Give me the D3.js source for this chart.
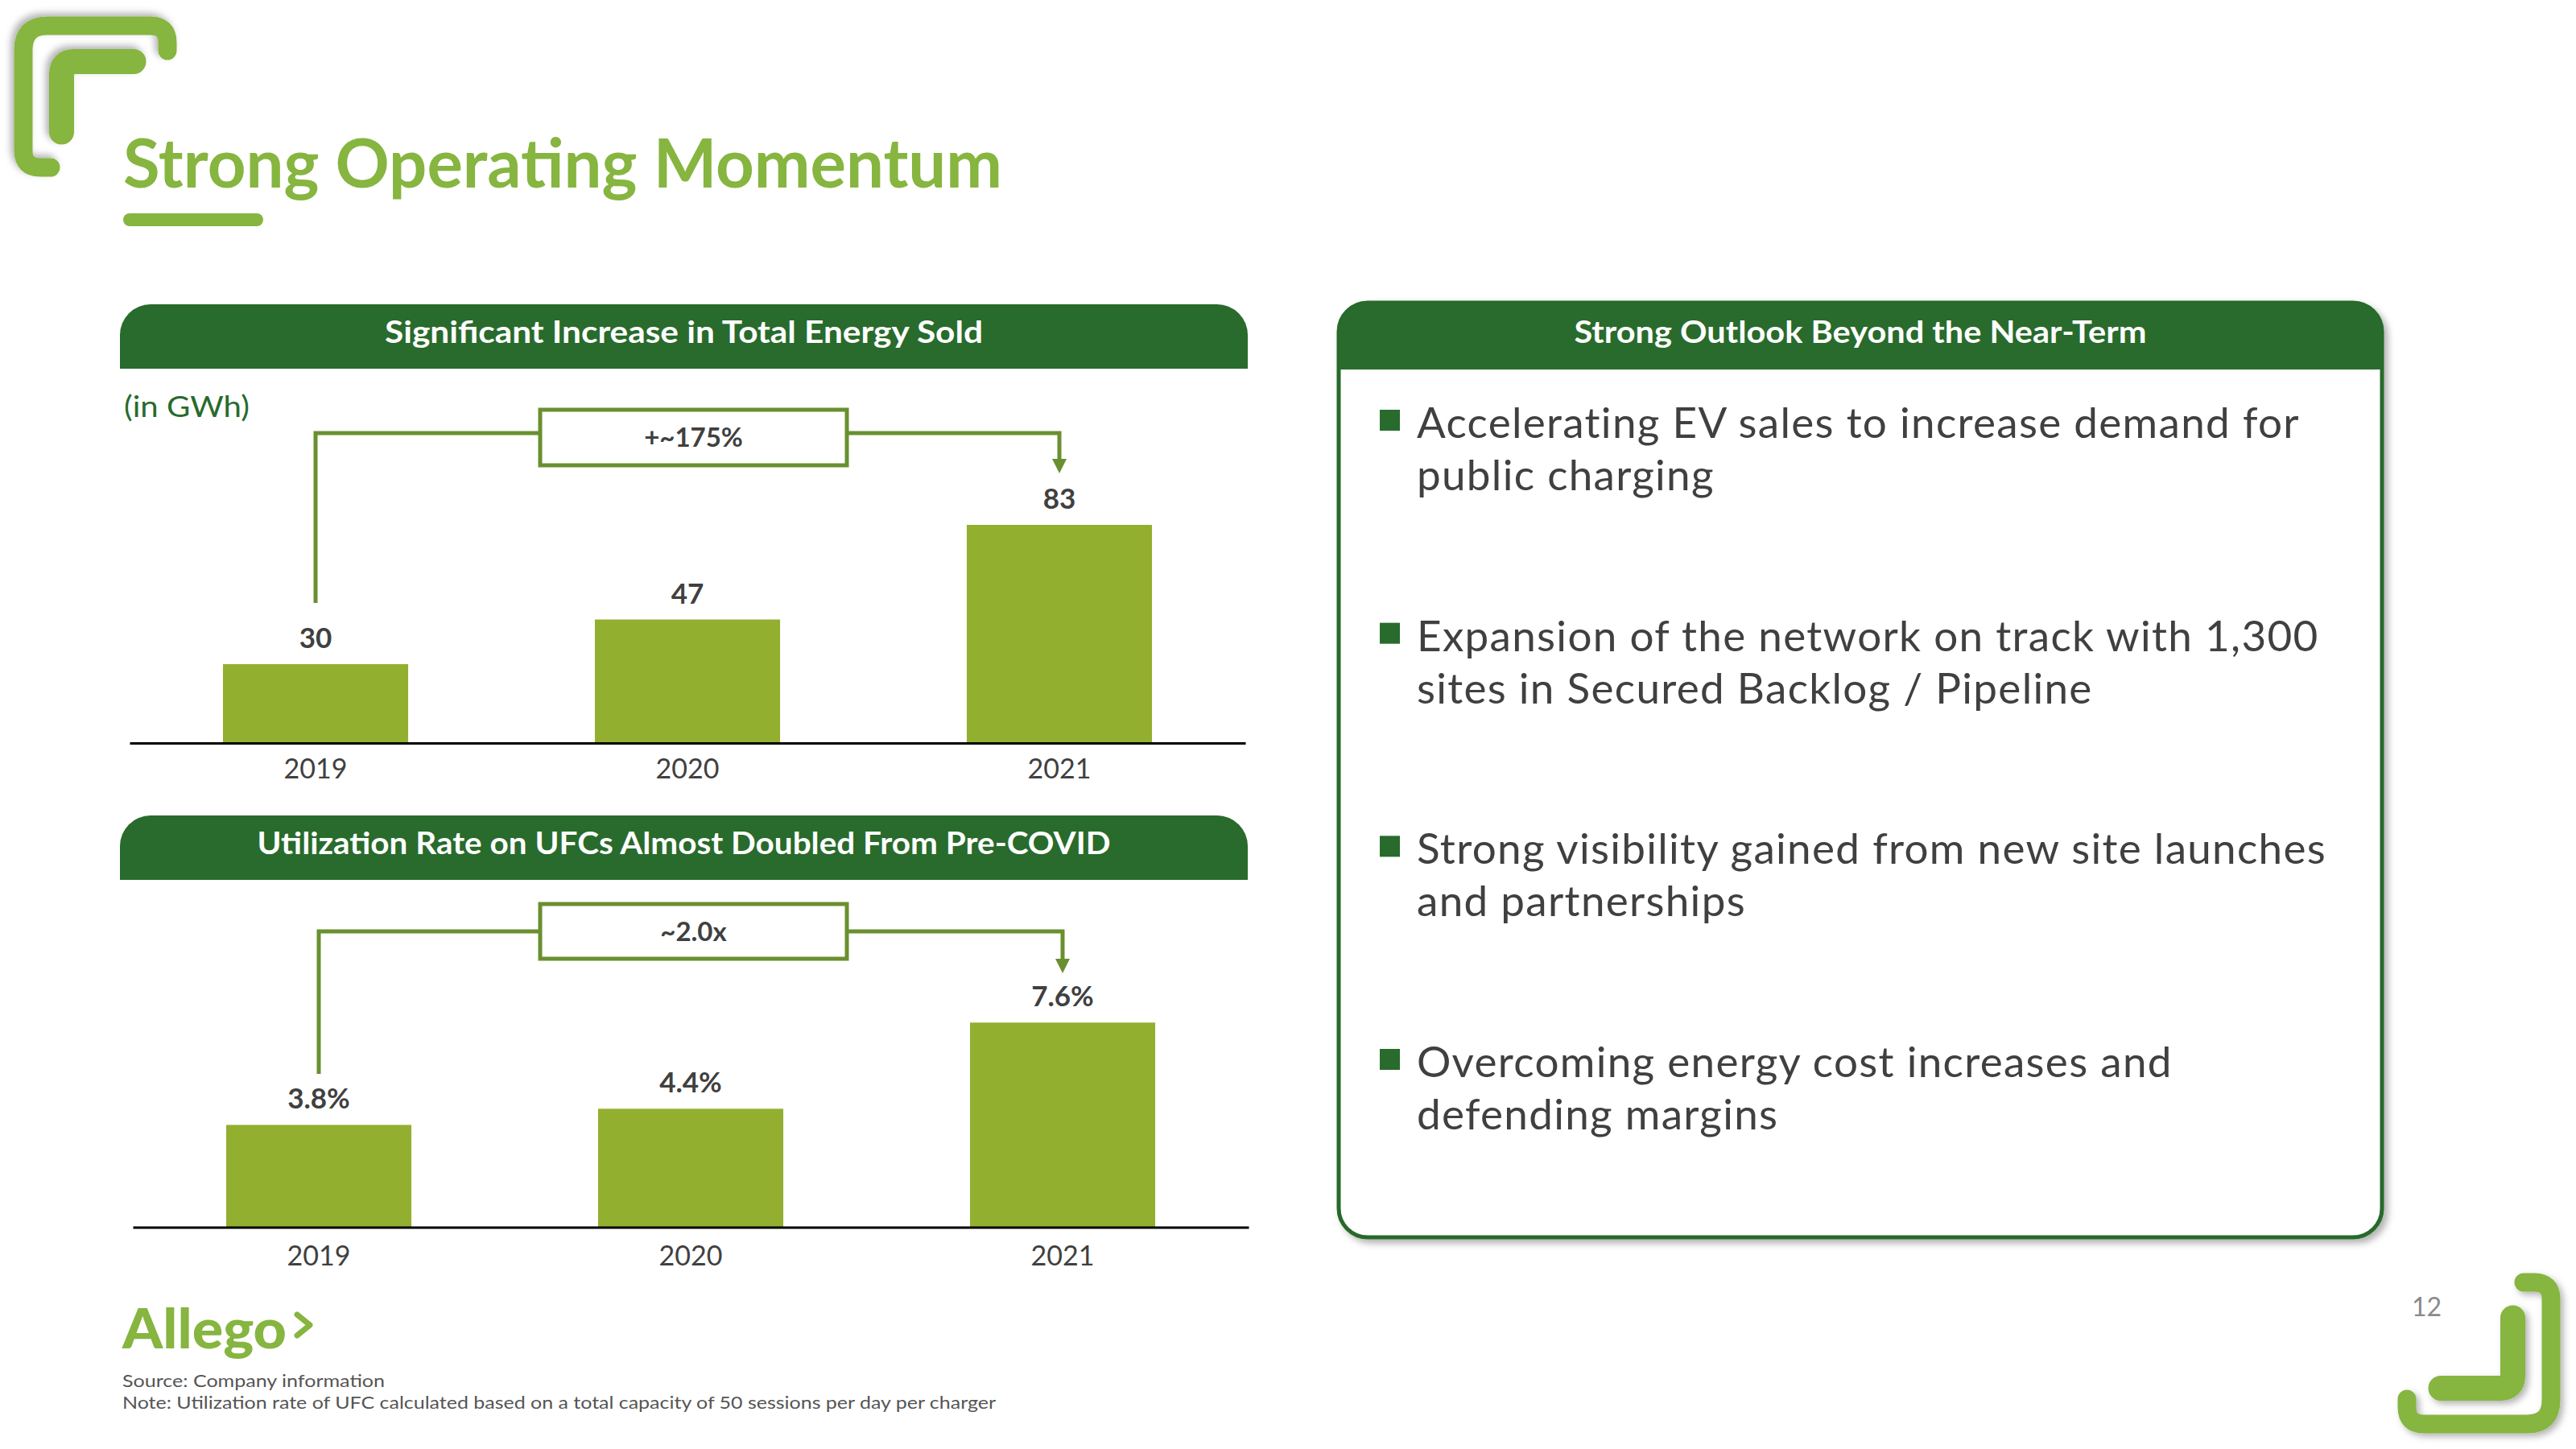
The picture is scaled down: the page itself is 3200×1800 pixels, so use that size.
<!DOCTYPE html>
<html>
<head>
<meta charset="utf-8">
<script src="https://cdn.jsdelivr.net/npm/d3@7"></script>
<style>
  html, body { margin: 0; padding: 0; background: #ffffff; }
  svg { display: block; }
</style>
</head>
<body>
<div id="chart"></div>
<script>
// ---------------- DATA ----------------
const years = ["2019", "2020", "2021"];
const energySold = [30, 47, 83];
const energyLabels = ["30", "47", "83"];
const utilization = [3.8, 4.4, 7.6];
const utilLabels = ["3.8%", "4.4%", "7.6%"];
const titleText = "Strong Operating Momentum";
const header1 = "Significant Increase in Total Energy Sold";
const header2 = "Utilization Rate on UFCs Almost Doubled From Pre-COVID";
const header3 = "Strong Outlook Beyond the Near-Term";
const unitLabel = "(in GWh)";
const growth1 = "+~175%";
const growth2 = "~2.0x";
const bullets = [
  ["Accelerating EV sales to increase demand for", "public charging"],
  ["Expansion of the network on track with 1,300", "sites in Secured Backlog / Pipeline"],
  ["Strong visibility gained from new site launches", "and partnerships"],
  ["Overcoming energy cost increases and", "defending margins"]
];
const footnotes = ["Source: Company information",
  "Note: Utilization rate of UFC calculated based on a total capacity of 50 sessions per day per charger"];
const pageNumber = "12";

// ---------------- STYLE ----------------
const W = 3200, H = 1800;
const FONT = "Lato, 'Open Sans', 'DejaVu Sans', sans-serif";
const C = {
  lime: "#86b540", bar: "#93af30", dark: "#286b2c", bracket: "#6a8f2f",
  text: "#404040", gray: "#8a8a8a"
};

const svg = d3.select("#chart").append("svg")
  .attr("width", W).attr("height", H).attr("viewBox", `0 0 ${W} ${H}`);

const defs = svg.append("defs");
const f1 = defs.append("filter").attr("id", "logoShadow")
  .attr("x", "-30%").attr("y", "-30%").attr("width", "160%").attr("height", "160%");
f1.append("feDropShadow").attr("dx", -4).attr("dy", -4).attr("stdDeviation", 4)
  .attr("flood-color", "#000").attr("flood-opacity", 0.3);
const f2 = defs.append("filter").attr("id", "panelShadow")
  .attr("x", "-5%").attr("y", "-5%").attr("width", "110%").attr("height", "110%");
f2.append("feDropShadow").attr("dx", 5).attr("dy", 5).attr("stdDeviation", 4)
  .attr("flood-color", "#000").attr("flood-opacity", 0.3);

// ---------------- LOGO BRACKETS ----------------
function drawBracket(transform) {
  const g = svg.append("g").attr("transform", transform).attr("filter", "url(#logoShadow)");
  g.append("path")
    .attr("d", "M 46,188 L 33,188 Q 12,188 12,167 L 12,42 Q 12,12 42,12 L 170,12 Q 191,12 191,33 L 191,43")
    .attr("fill", "none").attr("stroke", C.lime).attr("stroke-width", 23)
    .attr("stroke-linecap", "round").attr("stroke-linejoin", "round");
  g.append("path")
    .attr("d", "M 59.5,144 L 59.5,72 Q 59.5,56.5 75,56.5 L 149,56.5")
    .attr("fill", "none").attr("stroke", C.lime).attr("stroke-width", 31)
    .attr("stroke-linecap", "round").attr("stroke-linejoin", "round");
}
drawBracket("translate(17,20)");
drawBracket("translate(3181,1781) rotate(180)");

// ---------------- TITLE ----------------
svg.append("text").attr("x", 153).attr("y", 233)
  .attr("font-family", FONT).attr("font-weight", 700).attr("font-size", 84)
  .attr("fill", C.lime).attr("textLength", 1092).attr("lengthAdjust", "spacingAndGlyphs")
  .text(titleText);
svg.append("rect").attr("x", 153).attr("y", 265).attr("width", 174).attr("height", 16)
  .attr("rx", 8).attr("fill", C.lime);

// ---------------- HELPERS ----------------
function topRounded(x, y, w, h, r) {
  return `M ${x},${y + h} L ${x},${y + r} A ${r},${r} 0 0 1 ${x + r},${y} L ${x + w - r},${y} ` +
    `A ${r},${r} 0 0 1 ${x + w},${y + r} L ${x + w},${y + h} Z`;
}

function header(x, y, w, h, label, textW) {
  svg.append("path").attr("d", topRounded(x, y, w, h, 38)).attr("fill", C.dark);
  svg.append("text").attr("x", x + w / 2).attr("y", y + 48)
    .attr("text-anchor", "middle").attr("font-family", FONT).attr("font-weight", 700)
    .attr("font-size", 38).attr("fill", "#ffffff")
    .attr("textLength", textW).attr("lengthAdjust", "spacingAndGlyphs")
    .text(label);
}

// ---------------- BAR CHART ----------------
function barChart(cfg) {
  const x = d3.scaleBand().domain(years).range(cfg.xRange)
    .paddingInner(0.502).paddingOuter(0.251);
  const y = d3.scaleLinear().domain([0, cfg.maxV]).range([cfg.base, cfg.base - cfg.maxPx]);
  const data = years.map((yr, i) => ({ yr, v: cfg.values[i], label: cfg.labels[i] }));
  const g = svg.append("g");

  g.selectAll("rect.bar").data(data).enter().append("rect")
    .attr("class", "bar")
    .attr("x", d => x(d.yr)).attr("width", x.bandwidth())
    .attr("y", d => y(d.v)).attr("height", d => y(0) - y(d.v))
    .attr("fill", C.bar);

  g.selectAll("text.val").data(data).enter().append("text")
    .attr("class", "val")
    .attr("x", d => x(d.yr) + x.bandwidth() / 2).attr("y", d => y(d.v) - 20)
    .attr("text-anchor", "middle").attr("font-family", FONT).attr("font-weight", 700)
    .attr("font-size", 35).attr("fill", C.text).text(d => d.label);

  const axis = g.append("g").attr("transform", `translate(0,${cfg.base})`)
    .call(d3.axisBottom(x).tickSize(0).tickPadding(cfg.tickPad).tickSizeOuter(0));
  axis.select(".domain").attr("stroke", "#000").attr("stroke-width", 3);
  axis.selectAll("text").attr("font-family", FONT).attr("font-size", 34)
    .attr("fill", C.text);

  // growth bracket
  const xa = x(years[0]) + x.bandwidth() / 2;
  const xb = x(years[2]) + x.bandwidth() / 2;
  const bx0 = cfg.box[0], bx1 = cfg.box[1];
  g.append("path")
    .attr("d", `M ${xa},${cfg.bracketBottom} L ${xa},${cfg.bracketY} L ${bx0},${cfg.bracketY}`)
    .attr("fill", "none").attr("stroke", C.bracket).attr("stroke-width", 5);
  g.append("path")
    .attr("d", `M ${bx1},${cfg.bracketY} L ${xb},${cfg.bracketY} L ${xb},${cfg.arrowTip - 16}`)
    .attr("fill", "none").attr("stroke", C.bracket).attr("stroke-width", 5);
  g.append("path")
    .attr("d", `M ${xb - 9},${cfg.arrowTip - 18} L ${xb + 9},${cfg.arrowTip - 18} L ${xb},${cfg.arrowTip} Z`)
    .attr("fill", C.bracket);
  g.append("rect").attr("x", bx0).attr("y", cfg.boxY[0])
    .attr("width", bx1 - bx0).attr("height", cfg.boxY[1] - cfg.boxY[0])
    .attr("fill", "#fff").attr("stroke", C.bracket).attr("stroke-width", 5);
  g.append("text").attr("x", (bx0 + bx1) / 2).attr("y", cfg.growthBaseline)
    .attr("text-anchor", "middle").attr("font-family", FONT).attr("font-weight", 700)
    .attr("font-size", 33).attr("fill", C.text).text(cfg.growth);
}

header(149, 378, 1401, 80, header1, 743);
svg.append("text").attr("x", 154).attr("y", 518)
  .attr("font-family", FONT).attr("font-size", 36).attr("fill", C.dark)
  .attr("textLength", 156).attr("lengthAdjust", "spacingAndGlyphs").text(unitLabel);

barChart({
  values: energySold, labels: energyLabels, xRange: [161, 1547],
  maxV: 100, maxPx: 326.5, base: 923, tickPad: 20,
  bracketY: 538, bracketBottom: 749, box: [671, 1052], boxY: [509, 578],
  arrowTip: 588, growth: growth1, growthBaseline: 555
});

header(149, 1013, 1401, 80, header2, 1060);
barChart({
  values: utilization, labels: utilLabels, xRange: [165, 1551],
  maxV: 10, maxPx: 334.5, base: 1524.5, tickPad: 23,
  bracketY: 1157, bracketBottom: 1334, box: [671, 1052], boxY: [1123, 1191],
  arrowTip: 1209, growth: growth2, growthBaseline: 1169
});

// ---------------- RIGHT PANEL ----------------
const px = 1663, py = 376, pw = 1296, ph = 1161;
svg.append("rect").attr("x", px).attr("y", py).attr("width", pw).attr("height", ph)
  .attr("rx", 36).attr("fill", "#fff").attr("stroke", C.dark).attr("stroke-width", 5)
  .attr("filter", "url(#panelShadow)");
svg.append("path").attr("d", topRounded(px, py, pw, 83, 36)).attr("fill", C.dark);
svg.append("text").attr("x", px + pw / 2).attr("y", py + 50)
  .attr("text-anchor", "middle").attr("font-family", FONT).attr("font-weight", 700)
  .attr("font-size", 38).attr("fill", "#fff")
  .attr("textLength", 711).attr("lengthAdjust", "spacingAndGlyphs").text(header3);

const bulletY = d3.scalePoint().domain(d3.range(bullets.length)).range([544, 1338]);
const bg = svg.append("g");
bullets.forEach((lines, i) => {
  const by = bulletY(i);
  bg.append("rect").attr("x", 1714).attr("y", by - 35).attr("width", 25).attr("height", 26)
    .attr("fill", C.dark);
  lines.forEach((ln, j) => {
    bg.append("text").attr("x", 1760).attr("y", by + j * 65)
      .attr("font-family", FONT).attr("font-size", 53).attr("letter-spacing", 1.3)
      .attr("fill", C.text).text(ln);
  });
});

// ---------------- FOOTER ----------------
svg.append("text").attr("x", 152).attr("y", 1675)
  .attr("font-family", FONT).attr("font-weight", 900).attr("font-size", 68)
  .attr("fill", C.lime).attr("textLength", 204).attr("lengthAdjust", "spacingAndGlyphs")
  .text("Allego");
svg.append("path").attr("d", "M 369,1633 L 385,1646 L 369,1659")
  .attr("fill", "none").attr("stroke", C.lime).attr("stroke-width", 7)
  .attr("stroke-linecap", "round").attr("stroke-linejoin", "round");

svg.append("text").attr("x", 152).attr("y", 1723)
  .attr("font-family", FONT).attr("font-size", 22).attr("fill", "#555")
  .attr("textLength", 326).attr("lengthAdjust", "spacingAndGlyphs").text(footnotes[0]);
svg.append("text").attr("x", 152).attr("y", 1750)
  .attr("font-family", FONT).attr("font-size", 22).attr("fill", "#555")
  .attr("textLength", 1085).attr("lengthAdjust", "spacingAndGlyphs").text(footnotes[1]);

svg.append("text").attr("x", 2996).attr("y", 1635)
  .attr("font-family", FONT).attr("font-size", 32).attr("fill", C.gray).text(pageNumber);
</script>
</body>
</html>
